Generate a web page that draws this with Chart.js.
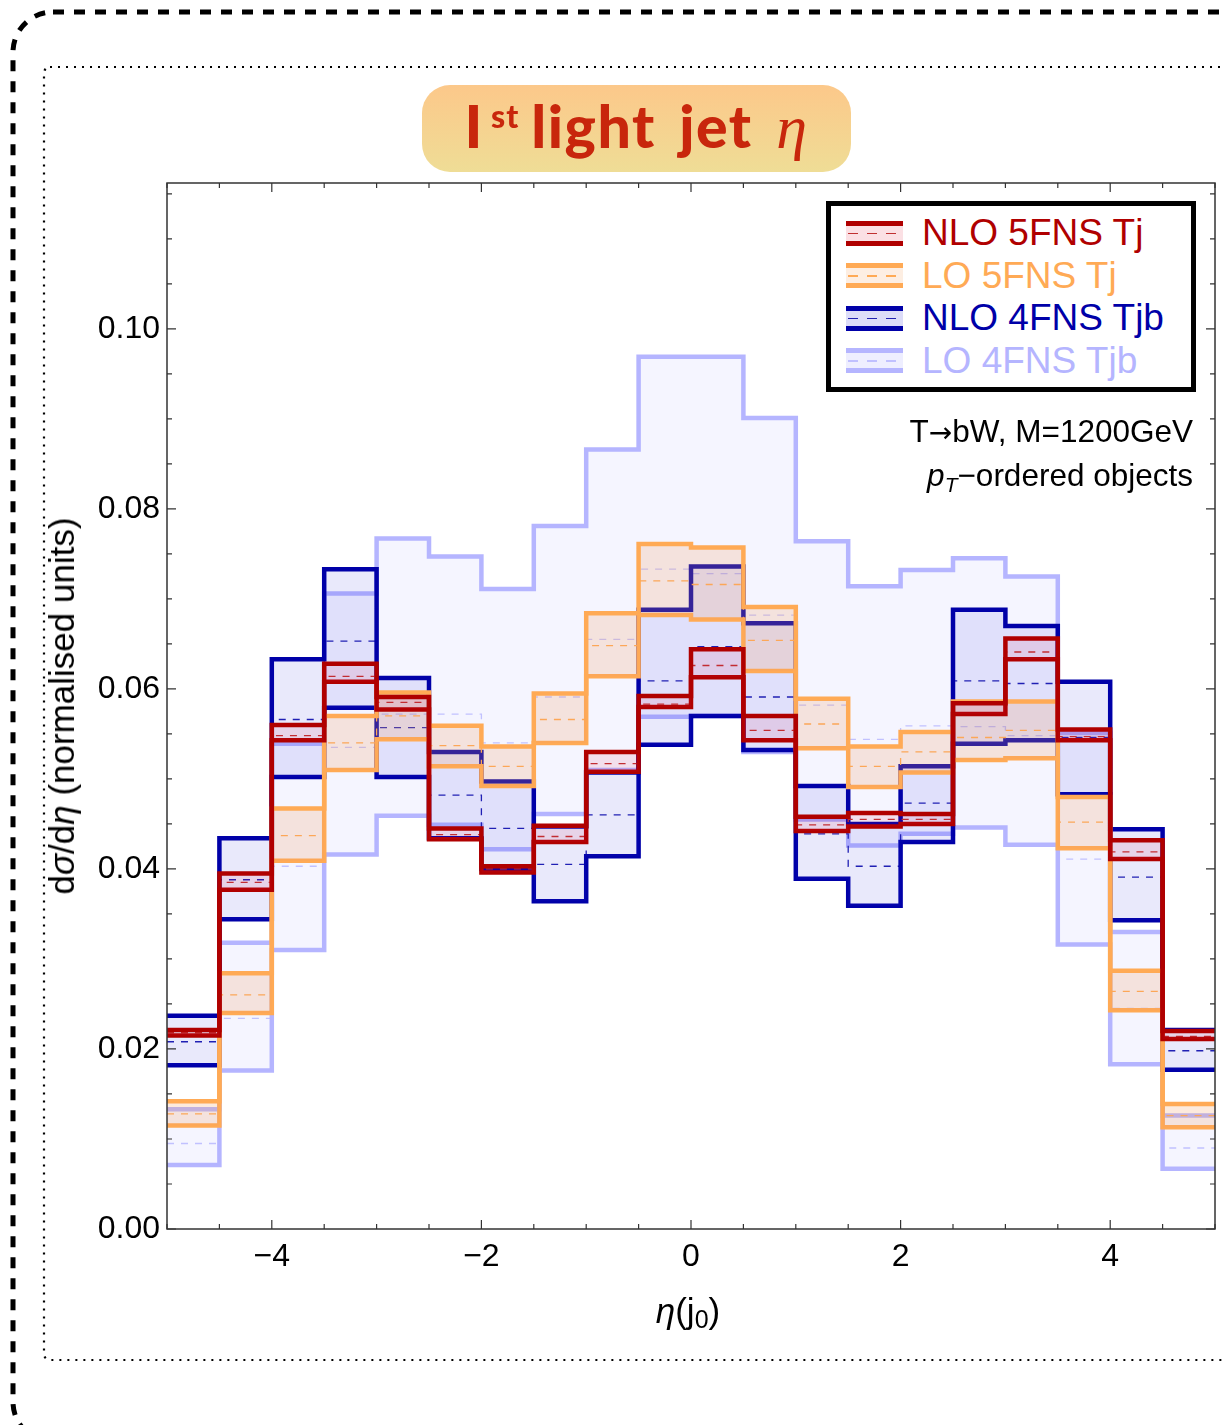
<!DOCTYPE html>
<html>
<head>
<meta charset="utf-8">
<script src="https://cdn.jsdelivr.net/npm/chart.js@4.4.0/dist/chart.umd.min.js"></script>
<style>
    html, body { margin: 0; padding: 0; background: #fff; }
    #wrap { position: relative; width: 1223px; height: 1425px; overflow: hidden; font-family: "Liberation Sans", Arial, sans-serif; }
    #myHistChart { position: absolute; left: 0; top: 0; }
    .badge {
        position: absolute; left: 422px; top: 85px; width: 429px; height: 87px;
        border-radius: 28px; background: linear-gradient(to bottom, #fcc88a, #efdd96);
        text-align: center; line-height: 56px; color: #c8260c; white-space: nowrap;
        font-family: Lato, "Open Sans", sans-serif; font-weight: 900; font-size: 59px;
        letter-spacing: 1.5px; word-spacing: 8px; box-sizing: border-box; padding-top: 3px;
    }
    .badge .sup { font-size: 32px; vertical-align: 20px; margin-left: 7px; margin-right: 12px; letter-spacing: 1px; }
    .badge .eta { font-family: "Liberation Serif", serif; font-style: italic; font-weight: normal; font-size: 62px; }
    .legend {
        position: absolute; left: 826px; top: 201px; width: 370px; height: 191px;
        box-sizing: border-box; border: 5px solid #000; background: #fff; padding-top: 6px;
    }
    .row { height: 42.5px; display: flex; align-items: center; padding-left: 15px; font-size: 37px; white-space: nowrap; }
    .icon { position: relative; width: 57px; height: 25px; box-sizing: border-box; margin-right: 19px; border-top: 5px solid; border-bottom: 5px solid; flex: none; }
    .icon .dash { position: absolute; left: 2px; right: 0; top: 7px; height: 1.5px; }
    .note { position: absolute; right: 30px; top: 410px; text-align: right; font-size: 31.5px; line-height: 43px; white-space: nowrap; }
    .note .arr { font-family: "DejaVu Sans", sans-serif; font-size: 28px; }
    .note sub { font-size: 21px; vertical-align: -6px; }
    .ytitle { position: absolute; left: 62px; top: 706px; transform: translate(-50%, -50%) rotate(-90deg); white-space: nowrap; font-size: 35px; }
    .xtitle { position: absolute; left: 688px; top: 1312px; transform: translate(-50%, -50%); white-space: nowrap; font-size: 35px; }
    .xtitle sub { font-size: 25px; vertical-align: -5px; }
</style>
</head>
<body>
<div id="wrap">
    <canvas id="myHistChart" width="1223" height="1425"></canvas>

    <div class="badge">I<span class="sup">st</span>light jet <span class="eta">η</span></div>

    <div class="legend">
        <div class="row" style="color:#b00000">
            <div class="icon" style="border-color:#b00000;background:#fbe0e4"><div class="dash" style="background:repeating-linear-gradient(to right,#c03030 0 10px,transparent 10px 19px)"></div></div>NLO 5FNS Tj
        </div>
        <div class="row" style="color:#ffaa55">
            <div class="icon" style="border-color:#ffaa55;background:#fdeee2"><div class="dash" style="background:repeating-linear-gradient(to right,#ffaa55 0 10px,transparent 10px 19px)"></div></div>LO 5FNS Tj
        </div>
        <div class="row" style="color:#0000a8">
            <div class="icon" style="border-color:#0000a8;background:#dcdcf8"><div class="dash" style="background:repeating-linear-gradient(to right,#2020b0 0 10px,transparent 10px 19px)"></div></div>NLO 4FNS Tjb
        </div>
        <div class="row" style="color:#b5b5ff">
            <div class="icon" style="border-color:#b5b5ff;background:#eeeeff"><div class="dash" style="background:repeating-linear-gradient(to right,#c0c0ff 0 10px,transparent 10px 19px)"></div></div>LO 4FNS Tjb
        </div>
    </div>

    <div class="note">T<span class="arr">→</span>bW, M=1200GeV<br><i>p</i><sub><i>T</i></sub>−ordered objects</div>
    <div class="ytitle">d<i>σ</i>/d<i>η</i> (normalised units)</div>
    <div class="xtitle"><i>η</i>(j<sub>0</sub>)</div>
</div>

<script>
// bin edges of the eta histogram (20 bins of 0.5)
const binEdges = [-5, -4.5, -4, -3.5, -3, -2.5, -2, -1.5, -1, -0.5, 0, 0.5, 1, 1.5, 2, 2.5, 3, 3.5, 4, 4.5, 5];
const xTicks = [-4, -2, 0, 2, 4];
const yTicks = [0, 0.02, 0.04, 0.06, 0.08, 0.10];
const xMinorStep = 0.5;
const yMinorStep = 0.005;

// NLO 5FNS Tj (red)
const nlo5Upper = [0.0221, 0.0395, 0.0560, 0.0628, 0.0591, 0.0445, 0.0403, 0.0448, 0.0530, 0.0592, 0.0644, 0.0570, 0.0458, 0.0462, 0.0461, 0.0584, 0.0656, 0.0555, 0.0432, 0.0220];
const nlo5Lower = [0.0215, 0.0377, 0.0543, 0.0608, 0.0577, 0.0433, 0.0396, 0.0430, 0.0508, 0.0580, 0.0613, 0.0543, 0.0442, 0.0447, 0.0450, 0.0572, 0.0633, 0.0543, 0.0411, 0.0211];
const nlo5Central = [0.0218, 0.0385, 0.0548, 0.0614, 0.0585, 0.0438, 0.0400, 0.0436, 0.0517, 0.0583, 0.0626, 0.0554, 0.0449, 0.0455, 0.0455, 0.0573, 0.0641, 0.0547, 0.0419, 0.0214];

// LO 5FNS Tj (orange)
const lo5Upper = [0.0142, 0.0284, 0.0467, 0.0570, 0.0596, 0.0559, 0.0536, 0.0595, 0.0684, 0.0761, 0.0757, 0.0691, 0.0589, 0.0536, 0.0552, 0.0586, 0.0586, 0.0480, 0.0287, 0.0139];
const lo5Lower = [0.0115, 0.0240, 0.0409, 0.0510, 0.0544, 0.0514, 0.0492, 0.0540, 0.0614, 0.0682, 0.0677, 0.0620, 0.0534, 0.0491, 0.0507, 0.0521, 0.0523, 0.0423, 0.0243, 0.0113];
const lo5Central = [0.0128, 0.0260, 0.0437, 0.0540, 0.0570, 0.0537, 0.0514, 0.0566, 0.0648, 0.0720, 0.0716, 0.0654, 0.0561, 0.0514, 0.0530, 0.0546, 0.0554, 0.0452, 0.0264, 0.0126];

// NLO 4FNS Tjb (blue)
const nlo4Upper = [0.0237, 0.0434, 0.0633, 0.0733, 0.0612, 0.0530, 0.0497, 0.0447, 0.0507, 0.0688, 0.0736, 0.0673, 0.0492, 0.0450, 0.0514, 0.0688, 0.0670, 0.0608, 0.0444, 0.0221];
const nlo4Lower = [0.0182, 0.0344, 0.0502, 0.0579, 0.0502, 0.0434, 0.0400, 0.0364, 0.0414, 0.0538, 0.0570, 0.0532, 0.0389, 0.0359, 0.0430, 0.0539, 0.0543, 0.0483, 0.0343, 0.0177];
const nlo4Central = [0.0208, 0.0388, 0.0566, 0.0653, 0.0557, 0.0482, 0.0445, 0.0405, 0.0460, 0.0609, 0.0647, 0.0591, 0.0439, 0.0403, 0.0473, 0.0609, 0.0606, 0.0546, 0.0391, 0.0198];

// LO 4FNS Tjb (light blue)
const lo4Upper = [0.0133, 0.0318, 0.0539, 0.0706, 0.0767, 0.0747, 0.0711, 0.0781, 0.0866, 0.0969, 0.0969, 0.0901, 0.0764, 0.0714, 0.0732, 0.0745, 0.0725, 0.0551, 0.0330, 0.0126];
const lo4Lower = [0.0071, 0.0176, 0.0310, 0.0416, 0.0459, 0.0449, 0.0422, 0.0461, 0.0510, 0.0569, 0.0570, 0.0530, 0.0455, 0.0426, 0.0439, 0.0446, 0.0427, 0.0316, 0.0183, 0.0067];
const lo4Central = [0.0095, 0.0234, 0.0403, 0.0535, 0.0572, 0.0572, 0.0540, 0.0591, 0.0655, 0.0733, 0.0728, 0.0682, 0.0582, 0.0544, 0.0559, 0.0558, 0.0548, 0.0411, 0.0245, 0.0090];

// left edge of every bin + closing point at the last edge
function histPoints(vals) {
    const pts = vals.map((v, i) => ({ x: binEdges[i], y: v }));
    pts.push({ x: binEdges[vals.length], y: vals[vals.length - 1] });
    return pts;
}

function band(name, upper, lower, central, lineColor, fillColor, dashColor) {
    return [
        {
            label: name + " up", data: histPoints(upper),
            borderColor: lineColor, backgroundColor: fillColor, fill: "+1",
            borderWidth: 4.5, stepped: true, pointRadius: 0, borderJoinStyle: "miter",
        },
        {
            label: name + " down", data: histPoints(lower),
            borderColor: lineColor, fill: false,
            borderWidth: 4.5, stepped: true, pointRadius: 0, borderJoinStyle: "miter",
        },
        {
            label: name, data: histPoints(central),
            borderColor: dashColor, fill: false, borderDash: [7, 7],
            borderWidth: 1.3, stepped: true, pointRadius: 0,
        },
    ];
}

// first datasets are drawn on top
const datasets = [].concat(
    band("NLO 5FNS Tj", nlo5Upper, nlo5Lower, nlo5Central, "#b00000", "rgba(220,20,70,0.10)", "#c03030"),
    band("LO 5FNS Tj", lo5Upper, lo5Lower, lo5Central, "#ffaa55", "rgba(240,160,100,0.22)", "#ffaa55"),
    band("NLO 4FNS Tjb", nlo4Upper, nlo4Lower, nlo4Central, "#0000a8", "rgba(40,40,220,0.10)", "#2020b0"),
    band("LO 4FNS Tjb", lo4Upper, lo4Lower, lo4Central, "#b5b5ff", "rgba(180,180,255,0.13)", "#c4c4ff")
);

// dashed / dotted frames round the figure
const pageFrames = {
    id: "pageFrames",
    beforeDraw(chart) {
        const ctx = chart.ctx;
        ctx.save();
        ctx.strokeStyle = "#000";
        ctx.lineWidth = 5;
        ctx.setLineDash([11, 10]);
        ctx.beginPath();
        ctx.roundRect(13, 12, 1260, 1430, 40);
        ctx.stroke();
        ctx.lineWidth = 2.2;
        ctx.setLineDash([2, 6]);
        ctx.beginPath();
        ctx.roundRect(44, 67, 1200, 1293, 6);
        ctx.stroke();
        ctx.restore();
    },
};

// box frame with inward ticks on all four sides
const frameTicks = {
    id: "frameTicks",
    afterDraw(chart) {
        const { ctx, chartArea: a, scales } = chart;
        const x = scales.x, y = scales.y;
        ctx.save();
        ctx.strokeStyle = "#333";
        ctx.lineWidth = 1.5;
        ctx.strokeRect(a.left, a.top, a.right - a.left, a.bottom - a.top);
        ctx.lineWidth = 1.2;
        ctx.beginPath();
        for (let v = x.min; v <= x.max + 1e-9; v += xMinorStep) {
            const px = x.getPixelForValue(v);
            const len = xTicks.includes(Math.round(v * 10) / 10) ? 9 : 5;
            ctx.moveTo(px, a.bottom); ctx.lineTo(px, a.bottom - len);
            ctx.moveTo(px, a.top); ctx.lineTo(px, a.top + len);
        }
        for (let v = 0; v <= y.max + 1e-9; v += yMinorStep) {
            const py = y.getPixelForValue(v);
            const major = yTicks.some((t) => Math.abs(t - v) < 1e-6);
            const len = major ? 9 : 5;
            ctx.moveTo(a.left, py); ctx.lineTo(a.left + len, py);
            ctx.moveTo(a.right, py); ctx.lineTo(a.right - len, py);
        }
        ctx.stroke();
        ctx.restore();
    },
};

new Chart(document.getElementById("myHistChart"), {
    type: "line",
    data: { datasets: datasets },
    options: {
        responsive: false,
        animation: false,
        devicePixelRatio: 1,
        layout: { padding: { left: 0, right: 8, top: 183, bottom: 0 } },
        scales: {
            x: {
                type: "linear", min: -5, max: 5,
                afterBuildTicks: (scale) => { scale.ticks = xTicks.map((v) => ({ value: v })); },
                afterFit: (scale) => { scale.height = 196; },
                grid: { display: false, drawTicks: false },
                border: { display: false },
                ticks: {
                    color: "#000", padding: 9,
                    font: { family: "Liberation Sans", size: 32 },
                    callback: (v) => (v < 0 ? "\u2212" + Math.abs(v) : String(v)),
                },
            },
            y: {
                type: "linear", min: 0, max: 0.1162,
                afterBuildTicks: (scale) => { scale.ticks = yTicks.map((v) => ({ value: v })); },
                afterFit: (scale) => { scale.width = 167; },
                grid: { display: false, drawTicks: false },
                border: { display: false },
                ticks: {
                    color: "#000", padding: 7,
                    font: { family: "Liberation Sans", size: 32 },
                    callback: (v) => v.toFixed(2),
                },
            },
        },
        plugins: {
            legend: { display: false },
            tooltip: { enabled: false },
        },
    },
    plugins: [pageFrames, frameTicks],
});
</script>
</body>
</html>
